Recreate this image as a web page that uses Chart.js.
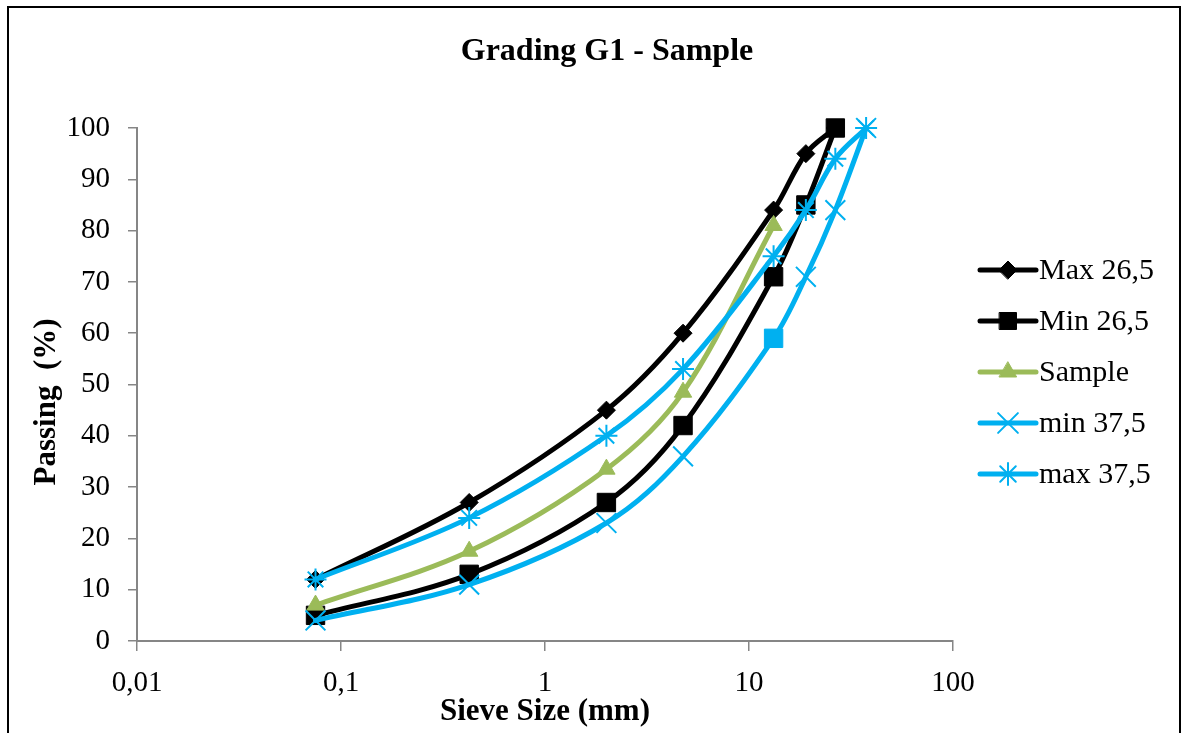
<!DOCTYPE html>
<html>
<head>
<meta charset="utf-8">
<title>Grading G1 - Sample</title>
<script src="https://cdn.jsdelivr.net/npm/chart.js@4/dist/chart.umd.min.js"></script>
<style>
  html, body { margin: 0; padding: 0; background: #ffffff; }
  #wrap { width: 1186px; height: 733px; position: relative; }
  canvas { display: block; }
</style>
</head>
<body>
<div id="wrap"><canvas id="chart" width="1186" height="733"></canvas></div>
<script>
// Sieve sizes (mm) and percentage passing for each grading envelope
const sieveSizes = [0.075, 0.425, 2, 4.75, 13.2, 19, 26.5, 37.5];
const max265 = [12, 27, 45, 60, 84, 95, 100];
const min265 = [5, 13, 27, 42, 71, 85, 100];
const sample = [7, 17.5, 33.5, 48.5, 81];
const min375 = [4, 11, 23, 36, 59, 71, 84, 100];
const max375 = [12, 24, 40, 53, 75, 84, 94, 100];

const seriesNames = ['Max 26,5', 'Min 26,5', 'Sample', 'min 37,5', 'max 37,5'];
const xTickValues = [0.01, 0.1, 1, 10, 100];
const xTickLabels = ['0,01', '0,1', '1', '10', '100'];

const chartTitle = 'Grading G1 - Sample';
const xTitle = 'Sieve Size (mm)';
const yTitle = 'Passing  (%)';

const SERIF = '"Liberation Serif", "Times New Roman", serif';
const BLACK = '#000000';
const GREEN = '#9BBB59';
const CYAN = '#00B0F0';
const AXIS = '#868686';

const toPoints = (vals) => vals.map((v, i) => ({ x: sieveSizes[i], y: v }));

Chart.defaults.font.family = SERIF;
Chart.defaults.color = '#000000';

const lineBase = {
  borderWidth: 5,
  tension: 0.35,
  fill: false,
  clip: false,
  borderCapStyle: 'round',
  borderJoinStyle: 'round'
};

const datasets = [
  Object.assign({}, lineBase, {
    label: seriesNames[0], data: toPoints(max265), order: 5,
    borderColor: BLACK, backgroundColor: BLACK,
    pointStyle: 'rectRot', pointRadius: 9, pointBorderWidth: 1,
    pointBorderColor: BLACK, pointBackgroundColor: BLACK
  }),
  Object.assign({}, lineBase, {
    label: seriesNames[1], data: toPoints(min265), order: 4,
    borderColor: BLACK, backgroundColor: BLACK,
    pointStyle: 'rect', pointRadius: 13, pointBorderWidth: 1,
    pointBorderColor: BLACK, pointBackgroundColor: BLACK
  }),
  Object.assign({}, lineBase, {
    label: seriesNames[2], data: toPoints(sample), order: 3,
    borderColor: GREEN, backgroundColor: GREEN,
    pointStyle: 'triangle', pointRadius: 10, pointBorderWidth: 1,
    pointBorderColor: GREEN, pointBackgroundColor: GREEN
  }),
  Object.assign({}, lineBase, {
    label: seriesNames[3], data: toPoints(min375), order: 2,
    borderColor: CYAN, backgroundColor: CYAN,
    pointStyle: (c) => (c.dataIndex === 4 ? 'rect' : 'crossRot'),
    pointRadius: (c) => (c.dataIndex === 4 ? 13 : 14),
    pointBorderWidth: (c) => (c.dataIndex === 4 ? 1 : 2),
    pointBorderColor: CYAN, pointBackgroundColor: CYAN
  }),
  Object.assign({}, lineBase, {
    label: seriesNames[4], data: toPoints(max375), order: 1,
    borderColor: CYAN, backgroundColor: CYAN,
    pointStyle: 'star', pointRadius: 11, pointBorderWidth: 2,
    pointBorderColor: CYAN, pointBackgroundColor: CYAN
  })
];

// Legend marker styles (first point style of each series)
const legendMarkers = [
  { pointStyle: 'rectRot', radius: 9, borderWidth: 1, color: BLACK },
  { pointStyle: 'rect', radius: 12, borderWidth: 1, color: BLACK },
  { pointStyle: 'triangle', radius: 10, borderWidth: 1, color: GREEN },
  { pointStyle: 'crossRot', radius: 14, borderWidth: 2, color: CYAN },
  { pointStyle: 'star', radius: 11, borderWidth: 2, color: CYAN }
];

const decorations = {
  id: 'decorations',
  beforeDraw(chart) {
    const ctx = chart.ctx;
    ctx.save();
    ctx.fillStyle = '#ffffff';
    ctx.fillRect(0, 0, chart.width, chart.height);
    ctx.restore();
  },
  afterDraw(chart) {
    const ctx = chart.ctx;
    const area = chart.chartArea;
    ctx.save();

    // outer frame
    ctx.strokeStyle = '#000000';
    ctx.lineWidth = 2;
    ctx.strokeRect(8, 7, 1172, 760);

    // chart title
    ctx.fillStyle = '#000000';
    ctx.textAlign = 'center';
    ctx.textBaseline = 'middle';
    ctx.font = 'bold 32px ' + SERIF;
    ctx.fillText(chartTitle, 607, 52);

    // axis titles
    ctx.font = 'bold 31px ' + SERIF;
    ctx.fillText(xTitle, (area.left + area.right) / 2, 712);

    ctx.save();
    ctx.translate(47, 402);
    ctx.rotate(-Math.PI / 2);
    ctx.fillText(yTitle, 0, 0);
    ctx.restore();

    // legend
    const lx0 = 980, lx1 = 1036, ly0 = 270, lstep = 51;
    ctx.font = '30px ' + SERIF;
    ctx.textAlign = 'left';
    chart.data.datasets.forEach((ds, i) => {
      const y = ly0 + i * lstep;
      const m = legendMarkers[i];
      ctx.strokeStyle = m.color;
      ctx.lineWidth = 5;
      ctx.lineCap = 'round';
      ctx.beginPath();
      ctx.moveTo(lx0, y);
      ctx.lineTo(lx1, y);
      ctx.stroke();

      ctx.fillStyle = m.color;
      ctx.strokeStyle = m.color;
      ctx.lineWidth = m.borderWidth;
      Chart.helpers.drawPoint(ctx, {
        pointStyle: m.pointStyle, radius: m.radius,
        borderWidth: m.borderWidth, rotation: 0
      }, (lx0 + lx1) / 2, y);

      ctx.fillStyle = '#000000';
      ctx.fillText(ds.label, 1039, y + 1);
    });
    ctx.restore();
  }
};

new Chart(document.getElementById('chart'), {
  type: 'line',
  data: { datasets },
  plugins: [decorations],
  options: {
    responsive: false,
    devicePixelRatio: 1,
    animation: false,
    layout: { padding: { left: 0, right: 233, top: 128, bottom: 0 } },
    plugins: {
      legend: { display: false },
      tooltip: { enabled: false },
      title: { display: false }
    },
    scales: {
      x: {
        type: 'logarithmic',
        min: 0.01,
        max: 100,
        afterBuildTicks: (scale) => { scale.ticks = xTickValues.map(v => ({ value: v })); },
        afterFit: (scale) => { scale.height = 92; },
        ticks: {
          autoSkip: false,
          maxRotation: 0,
          padding: 15,
          color: '#000000',
          font: { family: SERIF, size: 29 },
          callback: (value, index) => xTickLabels[index]
        },
        grid: { drawOnChartArea: false, drawTicks: true, tickLength: 10, color: AXIS, lineWidth: 1.5 },
        border: { display: true, color: AXIS, width: 2 }
      },
      y: {
        type: 'linear',
        min: 0,
        max: 100,
        afterFit: (scale) => { scale.width = 137; },
        ticks: {
          stepSize: 10,
          padding: 18,
          color: '#000000',
          font: { family: SERIF, size: 29 }
        },
        grid: { drawOnChartArea: false, drawTicks: true, tickLength: 9, color: AXIS, lineWidth: 1.5 },
        border: { display: true, color: AXIS, width: 2 }
      }
    }
  }
});
</script>
</body>
</html>
